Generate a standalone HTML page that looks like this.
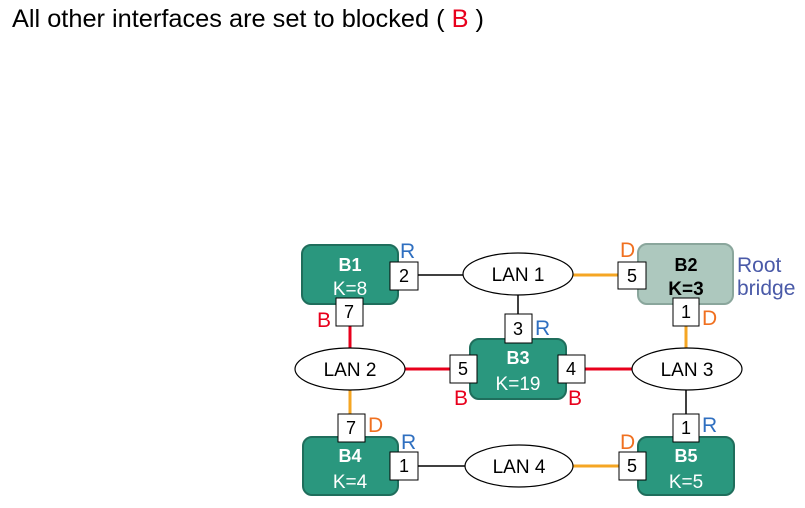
<!DOCTYPE html>
<html><head><meta charset="utf-8"><style>
html,body{margin:0;padding:0;background:#fff;}
svg{display:block;font-family:"Liberation Sans",Arial,sans-serif;}
</style></head><body>
<svg width="805" height="508" viewBox="0 0 805 508" xmlns="http://www.w3.org/2000/svg">
<text x="12" y="27" font-size="25" fill="#000" textLength="472" lengthAdjust="spacingAndGlyphs">All other interfaces are set to blocked ( <tspan fill="#e8001c">B</tspan> )</text>

<g stroke-width="3">
<line x1="418" y1="275" x2="463" y2="275" stroke="#000" stroke-width="1.5"/>
<line x1="573" y1="275" x2="618" y2="275" stroke="#f5a623"/>
<line x1="518" y1="295" x2="518" y2="314" stroke="#000" stroke-width="1.5"/>
<line x1="350" y1="326" x2="350" y2="348" stroke="#e8001c"/>
<line x1="686" y1="326" x2="686" y2="348" stroke="#f5a623"/>
<line x1="405" y1="369" x2="450" y2="369" stroke="#e8001c"/>
<line x1="585" y1="369" x2="632" y2="369" stroke="#e8001c"/>
<line x1="350" y1="390" x2="350" y2="414" stroke="#f5a623"/>
<line x1="686" y1="390" x2="686" y2="414" stroke="#000" stroke-width="1.5"/>
<line x1="418" y1="466" x2="465" y2="466" stroke="#000" stroke-width="1.5"/>
<line x1="573" y1="466" x2="619" y2="466" stroke="#f5a623"/>
</g>

<g stroke-width="2">
<rect x="302" y="245" width="96" height="59" rx="9" fill="#2a977e" stroke="#1f6e5c"/>
<rect x="638" y="244" width="95" height="60" rx="9" fill="#adc8be" stroke="#8aa69c"/>
<rect x="470" y="339" width="96" height="60" rx="9" fill="#2a977e" stroke="#1f6e5c"/>
<rect x="303" y="437" width="95" height="58" rx="9" fill="#2a977e" stroke="#1f6e5c"/>
<rect x="638" y="437" width="96" height="58" rx="9" fill="#2a977e" stroke="#1f6e5c"/>
</g>
<g font-size="18" font-weight="bold" text-anchor="middle" fill="#fff">
<text x="350" y="271">B1</text>
<text x="518" y="364">B3</text>
<text x="350" y="462">B4</text>
<text x="686" y="462">B5</text>
<text x="686" y="271" fill="#000">B2</text>
</g>
<g font-size="19" text-anchor="middle" fill="#fff">
<text x="350" y="295">K=8</text>
<text x="518" y="390">K=19</text>
<text x="350" y="488">K=4</text>
<text x="686" y="488">K=5</text>
<text x="686" y="295" fill="#000" font-weight="bold">K=3</text>
</g>
<text x="737" y="272" font-size="21" fill="#4a5aa8">Root</text>
<text x="737" y="295" font-size="21" fill="#4a5aa8">bridge</text>

<g fill="#fff" stroke="#000" stroke-width="1.2">
<ellipse cx="518" cy="274" rx="55" ry="21"/>
<ellipse cx="350" cy="369" rx="55" ry="21"/>
<ellipse cx="687" cy="369" rx="55" ry="21"/>
<ellipse cx="519" cy="466" rx="54" ry="21"/>
</g>
<g font-size="19" text-anchor="middle" fill="#000">
<text x="518" y="281">LAN 1</text>
<text x="350" y="376">LAN 2</text>
<text x="687" y="376">LAN 3</text>
<text x="519" y="473">LAN 4</text>
</g>

<g fill="#fff" stroke="#000" stroke-width="1">
<rect x="390" y="262" width="28" height="28"/>
<rect x="618" y="262" width="28" height="27"/>
<rect x="673" y="298" width="26" height="28"/>
<rect x="336" y="298" width="27" height="28"/>
<rect x="505" y="314" width="27" height="29"/>
<rect x="450" y="355" width="27" height="28"/>
<rect x="558" y="355" width="27" height="28"/>
<rect x="673" y="414" width="26" height="28"/>
<rect x="619" y="452" width="27" height="28"/>
<rect x="390" y="452" width="28" height="28"/>
<rect x="338" y="414" width="27" height="28"/>
</g>
<g font-size="18" text-anchor="middle" fill="#000">
<text x="404" y="282">2</text>
<text x="632" y="282">5</text>
<text x="686" y="318">1</text>
<text x="349" y="318">7</text>
<text x="518" y="335">3</text>
<text x="463" y="375">5</text>
<text x="571" y="375">4</text>
<text x="686" y="434">1</text>
<text x="632" y="472">5</text>
<text x="404" y="472">1</text>
<text x="351" y="434">7</text>
</g>

<g font-size="21">
<text x="400" y="258" fill="#2f6fc0">R</text>
<text x="620" y="257" fill="#f07020">D</text>
<text x="702" y="325" fill="#f07020">D</text>
<text x="317" y="327" fill="#e8001c">B</text>
<text x="535" y="335" fill="#2f6fc0">R</text>
<text x="454" y="405" fill="#e8001c">B</text>
<text x="568" y="405" fill="#e8001c">B</text>
<text x="368" y="432" fill="#f07020">D</text>
<text x="401" y="449" fill="#2f6fc0">R</text>
<text x="702" y="432" fill="#2f6fc0">R</text>
<text x="620" y="449" fill="#f07020">D</text>
</g>
</svg>
</body></html>
